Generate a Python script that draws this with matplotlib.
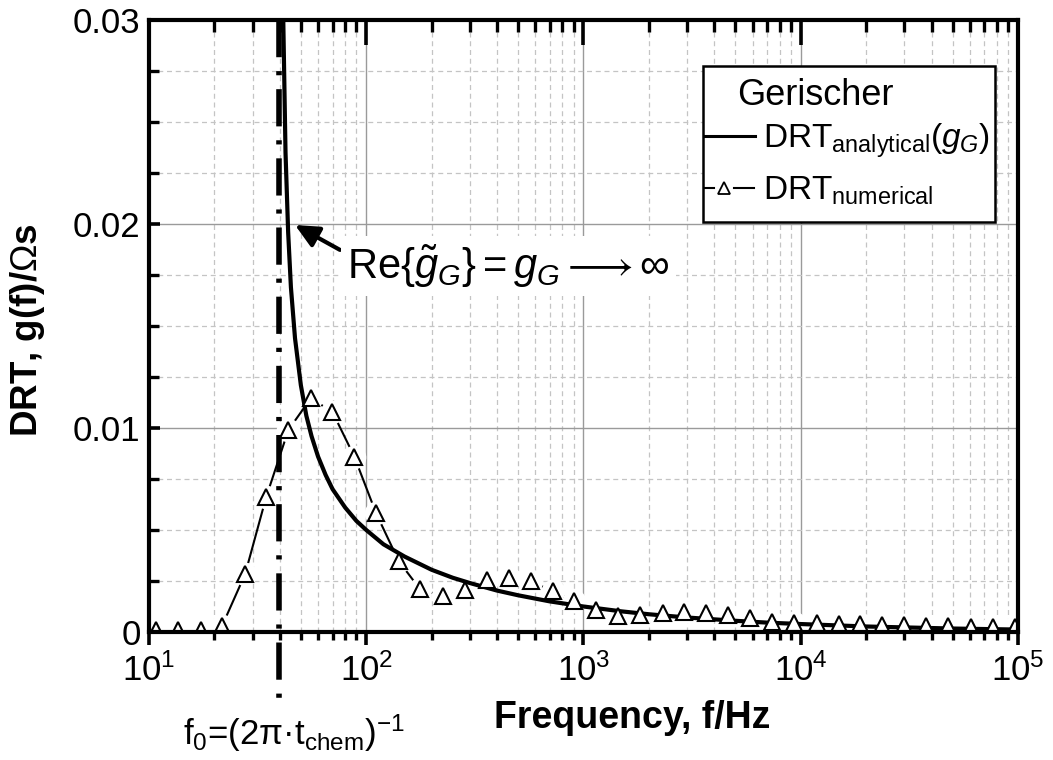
import matplotlib
matplotlib.use("Agg")
import matplotlib.pyplot as plt
from matplotlib.ticker import FixedLocator, LogLocator, NullFormatter, FixedFormatter, MultipleLocator
from matplotlib.lines import Line2D
from matplotlib.patches import Rectangle

plt.rcParams['font.family'] = ['Liberation Sans', 'DejaVu Sans']
plt.rcParams['mathtext.fontset'] = 'custom'
plt.rcParams['mathtext.rm'] = 'Liberation Sans'
plt.rcParams['mathtext.it'] = 'Liberation Sans:italic'
plt.rcParams['mathtext.bf'] = 'Liberation Sans:bold'

# ---------------- data ----------------
F0 = 39.8  # characteristic frequency f0 (Hz)

freq_analytical = [41.0, 41.5, 42.5, 43.7, 45, 47, 50, 53, 56, 60, 65, 70, 80, 90, 100, 120,
                   150, 200, 250, 300, 400, 500, 700, 1000, 1500, 2000, 3000, 5000, 7000,
                   10000, 20000, 50000, 100000]
g_analytical = [0.0352, 0.0300, 0.0235, 0.0196, 0.0169, 0.0144, 0.0121, 0.0106, 0.0096, 0.0086,
                0.0077, 0.0070, 0.0061, 0.00545, 0.0050, 0.0043, 0.0037, 0.00305, 0.00266,
                0.0024, 0.00203, 0.0018, 0.0015, 0.00125, 0.00101, 0.00087, 0.00071, 0.00055,
                0.00046, 0.00039, 0.00027, 0.00017, 0.00012]

freq_numerical = [10.8, 13.6, 17.3, 21.7, 27.7, 34.6, 43.8, 55.5, 69.8, 88.1, 111, 141, 177,
                  225, 285, 361, 455, 573, 721, 908, 1143, 1439, 1828, 2312, 2911, 3664, 4645,
                  5848, 7362, 9354, 11830, 15000, 18750, 23770, 29920, 37670, 47430, 60530,
                  76740, 96610]
g_numerical = [0.0001, 0.0001, 0.0001, 0.0003, 0.00284, 0.0066, 0.0099, 0.01145, 0.0108,
               0.0086, 0.00582, 0.00348, 0.00209, 0.00177, 0.00208, 0.00255, 0.00267, 0.0025,
               0.0020, 0.0015, 0.00108, 0.0008, 0.00083, 0.00095, 0.0010, 0.00095, 0.00083,
               0.00067, 0.0005, 0.00042, 0.00042, 0.0004, 0.00038, 0.00036, 0.00033, 0.0003,
               0.00028, 0.00026, 0.00025, 0.00025]

x_ticks = [1e1, 1e2, 1e3, 1e4, 1e5]
x_tick_labels = [r'$10^{1}$', r'$10^{2}$', r'$10^{3}$', r'$10^{4}$', r'$10^{5}$']
y_ticks = [0, 0.01, 0.02, 0.03]
y_tick_labels = ['0', '0.01', '0.02', '0.03']

# ---------------- figure ----------------
W, H = 1053, 760
fig = plt.figure(figsize=(W / 100, H / 100), dpi=100)
L, R, T, B = 149, 1018, 20, 632
ax = fig.add_axes([L / W, 1 - B / H, (R - L) / W, (B - T) / H])

ax.set_xscale('log')
ax.set_xlim(10, 1e5)
ax.set_ylim(0, 0.03)

ax.xaxis.set_major_locator(FixedLocator(x_ticks))
ax.xaxis.set_major_formatter(FixedFormatter(x_tick_labels))
ax.xaxis.set_minor_locator(LogLocator(base=10, subs=[2, 3, 4, 5, 6, 7, 8, 9]))
ax.xaxis.set_minor_formatter(NullFormatter())
ax.yaxis.set_major_locator(FixedLocator(y_ticks))
ax.yaxis.set_major_formatter(FixedFormatter(y_tick_labels))
ax.yaxis.set_minor_locator(MultipleLocator(0.0025))

ax.set_axisbelow(True)
ax.grid(which='major', color='#9a9a9a', lw=1.0, ls='-')
ax.grid(which='minor', color='#c4c4c4', lw=0.9, ls=(0, (4, 3)))

for s in ax.spines.values():
    s.set_linewidth(3)
    s.set_zorder(10)

ax.tick_params(axis='x', which='major', direction='out', length=9, width=2.6,
               labelsize=25, pad=6, top=False)
ax.tick_params(axis='x', which='minor', direction='out', length=5.5, width=2.4, top=False)
ax.tick_params(axis='y', which='major', direction='in', length=8, width=2.6,
               labelsize=25, pad=6, right=False)
ax.tick_params(axis='y', which='minor', direction='in', length=7, width=2.4, right=False)

# top ticks (pointing inward) on a twin x-axis
axt = ax.twiny()
axt.set_xscale('log')
axt.set_xlim(ax.get_xlim())
axt.xaxis.set_major_locator(FixedLocator(x_ticks))
axt.xaxis.set_minor_locator(LogLocator(base=10, subs=[2, 3, 4, 5, 6, 7, 8, 9]))
axt.xaxis.set_major_formatter(NullFormatter())
axt.xaxis.set_minor_formatter(NullFormatter())
axt.tick_params(axis='x', which='major', direction='in', length=18, width=2.6,
                top=True, bottom=False, labeltop=False, labelbottom=False)
axt.tick_params(axis='x', which='minor', direction='in', length=8.5, width=2.4,
                top=True, bottom=False)
for s in axt.spines.values():
    s.set_visible(False)

# ---------------- data series ----------------
ax.plot(freq_numerical, g_numerical, color='k', lw=1.5, zorder=3)
ax.plot(freq_numerical, g_numerical, ls='none', marker='o', ms=17, mfc='white',
        mec='none', zorder=3.5)
ax.plot(freq_analytical, g_analytical, color='k', lw=3, zorder=4,
        solid_capstyle='butt')
ax.plot(freq_numerical, g_numerical, ls='none', marker='^', ms=11, mfc='white',
        mec='k', mew=1.5, zorder=5)

# f0 dash-dot line, extends below the axis
ax.plot([F0, F0], [0.03, -0.0035], color='k', lw=4, dashes=(6.7, 2.5, 0.75, 2.5),
        dash_capstyle='butt', clip_on=False, zorder=4.5)

# ---------------- labels ----------------
ax.set_xlabel('Frequency, f/Hz', fontsize=27, fontweight='bold')
ax.xaxis.set_label_coords(0.556, -0.14)
ax.xaxis.label.set_va('center')
ax.set_ylabel(r'DRT, g(f)/$\Omega$s', fontsize=26.5, fontweight='bold')
ax.yaxis.set_label_coords(-0.140, 0.493)
ax.yaxis.label.set_va('center')

ax.text(0.1674, -0.165, 'f$_0$=(2π·t$_{\\mathrm{chem}}$)$^{-1}$',
        transform=ax.transAxes, ha='center', va='center', fontsize=25)

# annotation
ax.annotate('', xy=(47.0, 0.01995), xytext=(75.7, 0.01873),
            arrowprops=dict(arrowstyle='-|>,head_length=0.95,head_width=0.45', lw=3,
                            color='k', mutation_scale=15, shrinkA=0, shrinkB=0),
            zorder=6)
ax.text(0.2278, 0.598, r'Re{$\tilde{g}_G$}$=g_G\longrightarrow\infty$',
        transform=ax.transAxes, ha='left', va='center', fontsize=30, zorder=6,
        bbox=dict(boxstyle='square,pad=0.15', fc='white', ec='none'))

# ---------------- legend (manual) ----------------
def fx(px):
    return (px - L) / (R - L)

def fy(py):
    return (B - py) / (B - T)

tr = ax.transAxes
ax.add_patch(Rectangle((fx(703), fy(222)), fx(995) - fx(703), fy(66) - fy(222),
                       transform=tr, fc='white', ec='k', lw=1.8, zorder=8))
ax.text(fx(815), fy(105), 'Gerischer', transform=tr, ha='center', va='baseline',
        fontsize=26, zorder=9)
ax.add_line(Line2D([fx(705), fx(755)], [fy(136), fy(136)], transform=tr, color='k',
                   lw=2.2, zorder=9))
ax.text(fx(763), fy(148), r'DRT$_{\mathrm{analytical}}$($g_G$)', transform=tr,
        ha='left', va='baseline', fontsize=24, zorder=9)
ax.add_line(Line2D([fx(705), fx(714)], [fy(188), fy(188)], transform=tr, color='k',
                   lw=1.5, zorder=9))
ax.add_line(Line2D([fx(734), fx(754)], [fy(188), fy(188)], transform=tr, color='k',
                   lw=1.5, zorder=9))
ax.add_line(Line2D([fx(724)], [fy(188)], transform=tr, ls='none', marker='^', ms=9,
                   mfc='white', mec='k', mew=1.3, zorder=9))
ax.text(fx(763), fy(200), r'DRT$_{\mathrm{numerical}}$', transform=tr,
        ha='left', va='baseline', fontsize=24, zorder=9)

fig.savefig('out.png', dpi=100)
